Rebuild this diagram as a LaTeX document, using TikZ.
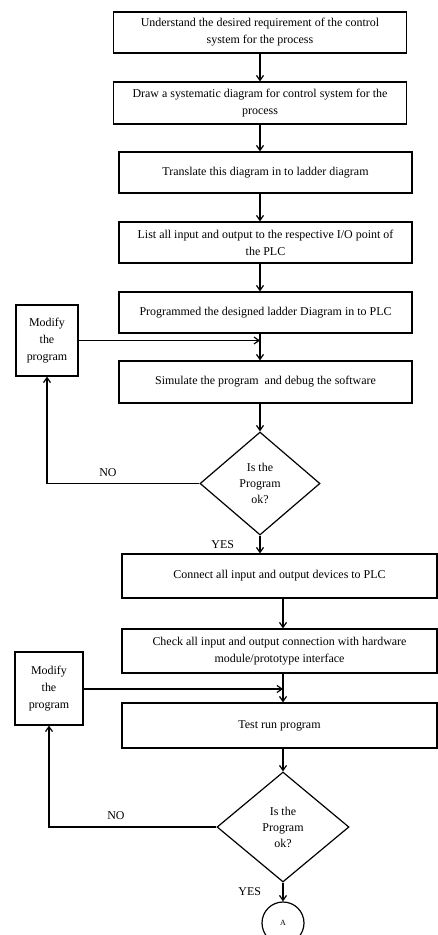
\documentclass[tikz,border=0pt]{standalone}
\usepackage{fontspec}
\setmainfont{Liberation Serif}
\usetikzlibrary{arrows.meta,positioning,shapes.geometric}

\begin{document}
\begin{tikzpicture}[x=1bp, y=-1bp,
  stepbox/.style={draw, line width=1.2bp, minimum width=293bp, minimum height=41bp,
    align=center, inner sep=1bp, font=\fontsize{12}{17}\selectfont},
  sidebox/.style={draw, line width=1.2bp, align=center, inner sep=1bp,
    font=\fontsize{12}{17}\selectfont},
  decision/.style={draw, diamond, line width=1.2bp, align=center, inner sep=0pt,
    font=\fontsize{12}{16}\selectfont},
  flow/.style={line width=1.2bp, -{Straight Barb[length=5bp, width=7bp]}},
  lbl/.style={font=\fontsize{12}{12}\selectfont}]
  \useasboundingbox (0,0) rectangle (438,935);

  % columns of the main flow
  \coordinate (col) at (260,0);
  \coordinate (colb) at (283,0);

  % upper part
  \node[stepbox] (understand) at (260,32.5)
    {Understand the desired requirement of the control\\system for the process};
  \node[stepbox, minimum height=42bp] (systematic) at (260,103)
    {Draw a systematic diagram for control system for the\\process};
  \node[stepbox] (ladder) at (265.5,172.5) {Translate this diagram in to ladder diagram};
  \node[stepbox] (listio) at (265.5,242.5)
    {List all input and output to the respective I/O point of\\the PLC};
  \node[stepbox] (programmed) at (265.5,312.5)
    {Programmed the designed ladder Diagram in to PLC};
  \node[stepbox, minimum height=42bp] (simulate) at (265.5,382)
    {Simulate the program\ \ and debug the software};
  \node[decision, minimum width=120bp, minimum height=103bp] (okone) at (260,483.5)
    {Is the\\Program\\ok?};
  \node[sidebox, minimum width=62bp, minimum height=71bp] (modone) at (47,340.5)
    {Modify\\the\\program};

  % lower part
  \node[stepbox, minimum width=315bp, minimum height=44bp] (connect) at (279.5,576)
    {Connect all input and output devices to PLC};
  \node[stepbox, minimum width=315bp, minimum height=44bp] (check) at (279.5,651)
    {Check all input and output connection with hardware\\module/prototype interface};
  \node[stepbox, minimum width=315bp, minimum height=45bp] (testrun) at (279.5,725.5)
    {Test run program};
  \node[decision, minimum width=132bp, minimum height=110bp] (oktwo) at (283,827)
    {Is the\\Program\\ok?};
  \node[sidebox, minimum width=68bp, minimum height=73bp] (modtwo) at (49,688.5)
    {Modify\\the\\program};
  \node[draw, circle, line width=1.2bp, minimum size=42bp, inner sep=0pt,
    font=\fontsize{8}{8}\selectfont] (conA) at (283,923) {A};

  % arrows
  \draw[flow] (understand) -- (systematic);
  \draw[flow] (systematic.south -| col) -- (ladder.north -| col);
  \draw[flow] (ladder.south -| col) -- (listio.north -| col);
  \draw[flow] (listio.south -| col) -- (programmed.north -| col);
  \draw[flow] (programmed.south -| col) -- (simulate.north -| col);
  \draw[flow] (modone.east) -- (modone.east -| col);
  \draw[flow] (simulate.south -| col) -- (okone.north);
  \draw[flow] (okone.west) -| (modone.south) node[lbl, pos=0.3, above=3bp] {NO};
  \draw[flow] (okone.south) -- (okone.south |- connect.north)
    node[lbl, midway, left=22bp] {YES};

  \draw[flow] (connect.south -| colb) -- (check.north -| colb);
  \draw[flow] (check.south -| colb) -- (testrun.north -| colb);
  \draw[flow] (modtwo.east |- 0,689) -- (colb |- 0,689);
  \draw[flow] (testrun.south -| colb) -- (oktwo.north);
  \draw[flow] (oktwo.west) -| (modtwo.south) node[lbl, pos=0.3, above=3bp] {NO};
  \draw[flow] (oktwo.south) -- (conA.north)
    node[lbl, midway, left=18bp] {YES};
\end{tikzpicture}
\end{document}
